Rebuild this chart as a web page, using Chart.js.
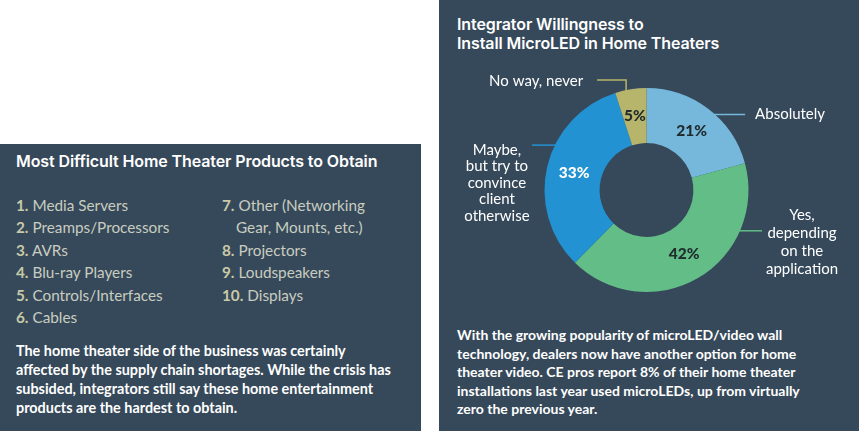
<!DOCTYPE html>
<html>
<head>
<meta charset="utf-8">
<script src="https://cdn.jsdelivr.net/npm/chart.js@4.4.0/dist/chart.umd.min.js"></script>
<style>
  body { margin: 0; width: 859px; height: 431px; overflow: hidden; background: #ffffff; position: relative; font-family: Lato, sans-serif; }
  .panel { position: absolute; background: #36495a; }
  #left { left: 0; top: 144px; width: 421px; height: 287px; }
  #right { left: 439px; top: 0; width: 420px; height: 431px; }
  .title { position: absolute; font-family: Inter, sans-serif; font-weight: 600; font-size: 16px; color: #ffffff; white-space: nowrap; letter-spacing: -0.1px; }
  .list { position: absolute; font-size: 15.3px; line-height: 22.4px; color: #c9cdc0; white-space: nowrap; }
  .list b { font-weight: 700; color: #c8caa8; }
  .para { position: absolute; font-weight: 700; font-size: 14px; color: #ffffff; white-space: nowrap; }
  #wrap { position: absolute; left: 440px; top: 60px; width: 413px; height: 260px; }
</style>
</head>
<body>
<div class="panel" id="left">
  <div class="title" style="left:16px; top:7px; line-height:20px;">Most Difficult Home Theater Products to Obtain</div>
  <div class="list" id="col1" style="left:16px; top:50px;"></div>
  <div class="list" id="col2" style="left:222px; top:50px;"></div>
  <div class="para" style="left:16px; top:197px; line-height:19px; font-size:14.4px;">The home theater side of the business was certainly<br>affected by the supply chain shortages. While the crisis has<br>subsided, integrators still say these home entertainment<br>products are the hardest to obtain.</div>
</div>
<div class="panel" id="right">
  <div class="title" style="left:18px; top:15px; line-height:19px;">Integrator Willingness to<br>Install MicroLED in Home Theaters</div>
  <div class="para" style="left:18px; top:326px; line-height:18.5px;">With the growing popularity of microLED/video wall<br>technology, dealers now have another option for home<br>theater video. CE pros report 8% of their home theater<br>installations last year used microLEDs, up from virtually<br>zero the previous year.</div>
</div>
<div id="wrap"><canvas id="myChart" width="413" height="260"></canvas></div>
<script>
// ranked list (left panel)
var products = ["Media Servers", "Preamps/Processors", "AVRs", "Blu-ray Players", "Controls/Interfaces",
                "Cables", "Other (Networking\nGear, Mounts, etc.)", "Projectors", "Loudspeakers", "Displays"];

// doughnut (right panel)
var answers = ["Absolutely", "Yes, depending on the application", "Maybe, but try to convince client otherwise", "No way, never"];
var answerLines = [["Absolutely"], ["Yes,", "depending", "on the", "application"], ["Maybe,", "but try to", "convince", "client", "otherwise"], ["No way, never"]];
var shares = [21, 42, 33, 5];
var colors = ["#76b8dc", "#62be86", "#2392d2", "#b7b56c"];
var pctColors = ["#1f2b2c", "#1f2b2c", "#ffffff", "#1f2b2c"];

// build list columns
(function () {
  var c1 = document.getElementById("col1"), c2 = document.getElementById("col2");
  products.forEach(function (p, i) {
    var parts = p.split("\n");
    var html = "<div><b>" + (i + 1) + ".</b> " + parts[0] + "</div>";
    if (parts[1]) html += "<div style='padding-left:14px'>" + parts[1] + "</div>";
    (i < 6 ? c1 : c2).innerHTML += html;
  });
})();

// callout placement: leader attaches where the ring crosses y = cy + dy*R (or x = cx + dx*R for top)
var callouts = [
  { side: "right", dy: -0.74, len: 30, textDx: 10, align: "left", firstDy: 0, lh: 17 },
  { side: "right", dy: 0.40, len: 22, textDx: 40, align: "center", firstDy: -16, lh: 18 },
  { side: "left", dy: -0.44, len: 23, textDx: 35, align: "center", firstDy: 5, lh: 16.5 },
  { side: "top", dx: -0.20, rise: 10, len: 29, textDx: 14, align: "right", firstDy: 1, lh: 17 }
];

var labelPlugin = {
  id: "labels",
  afterDraw: function (chart) {
    var ctx = chart.ctx;
    var meta = chart.getDatasetMeta(0);
    ctx.save();
    meta.data.forEach(function (arc, i) {
      var p = arc.getProps(["x", "y", "outerRadius"], true);
      var R = p.outerRadius;
      // percent label
      var tp = arc.tooltipPosition();
      ctx.font = "900 15.5px Lato";
      ctx.fillStyle = pctColors[i];
      ctx.textAlign = "center";
      ctx.textBaseline = "middle";
      ctx.fillText(shares[i] + "%", tp.x, tp.y);

      // leader line + category label
      var c = callouts[i];
      ctx.strokeStyle = colors[i];
      ctx.lineWidth = 1.5;
      ctx.beginPath();
      var ex, ey;
      if (c.side === "top") {
        var ax = p.x + c.dx * R;
        var ay = p.y - Math.sqrt(R * R - (c.dx * R) * (c.dx * R));
        ey = ay - c.rise;
        ex = ax - c.len;
        ctx.moveTo(ax, ay + 2);
        ctx.lineTo(ax, ey);
        ctx.lineTo(ex, ey);
        ex = ex - c.textDx;
      } else {
        var yy = p.y + c.dy * R;
        var half = Math.sqrt(R * R - (c.dy * R) * (c.dy * R));
        var sgn = c.side === "right" ? 1 : -1;
        var rx = p.x + sgn * half;
        ctx.moveTo(rx - sgn * 2, yy);
        ctx.lineTo(rx + sgn * c.len, yy);
        ey = yy;
        ex = rx + sgn * (c.len + c.textDx);
      }
      ctx.stroke();
      ctx.font = "15px Lato";
      ctx.fillStyle = "#ffffff";
      ctx.textAlign = c.align;
      answerLines[i].forEach(function (line, k) {
        ctx.fillText(line, ex, ey + c.firstDy + k * c.lh);
      });
    });
    ctx.restore();
  }
};

var ctx = document.getElementById("myChart");
new Chart(ctx, {
  type: "doughnut",
  data: {
    labels: answers,
    datasets: [{
      data: shares,
      backgroundColor: colors,
      borderWidth: 0
    }]
  },
  options: {
    responsive: false,
    animation: false,
    cutout: "46%",
    layout: { padding: 28 },
    plugins: {
      legend: { display: false },
      tooltip: { enabled: false }
    }
  },
  plugins: [labelPlugin]
});
</script>
</body>
</html>
